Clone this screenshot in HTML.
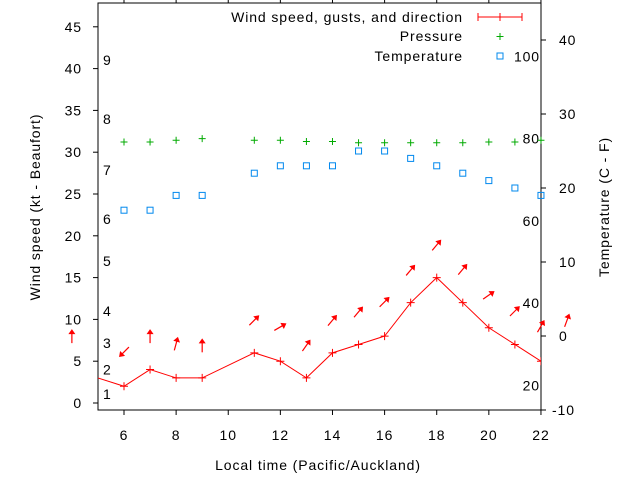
<!DOCTYPE html>
<html><head><meta charset="utf-8"><style>
html,body{margin:0;padding:0;background:#fff;}
svg{display:block;font-family:"Liberation Sans",sans-serif;font-size:14px;letter-spacing:0.9px;}
</style></head><body>
<svg id="c" width="640" height="480" viewBox="0 0 640 480"></svg>
<script>
const hours=[5,6,7,8,9,11,12,13,14,15,16,17,18,19,20,21,22];
const windKt=[3,2,4,3,3,6,5,3,6,7,8,12,15,12,9,7,5];
const pressure=[null,79.2,79.2,79.6,80,79.6,79.6,79.3,79.3,79,79,79,79,79,79.2,79.2,79.6];
const tempHours=[6,7,8,9,11,12,13,14,15,16,17,18,19,20,21,22];
const tempC=[17,17,19,19,22,23,23,23,25,25,24,23,22,21,20,19];
const arrowHours=[4,6,7,8,9,11,12,13,14,15,16,17,18,19,20,21,22,23];
const gustKt=[8.0,6.1,8.0,7.1,6.9,9.9,9.1,6.9,9.9,10.9,12.1,15.9,18.9,16.0,12.9,11.0,9.2,9.9];
const dirDeg=[0,225,0,15,0,45,60,35,40,40,45,40,40,40,55,45,30,20];
const xTicks=[6,8,10,12,14,16,18,20,22];
const yTicks=[0,5,10,15,20,25,30,35,40,45];
const cTicks=[-10,0,10,20,30,40];
const fTicks=[20,40,60,80,100];
const beaufort=[1,2,3,4,5,6,7,8,9];
const beaufortKt=[1.1,4.0,7.2,11,17,22,27.9,34,41];

const L=98,R=541,T=3,B=410;
const X=h=>124+(h-6)*26.06;
const Y=k=>403-k*8.36;
const YC=c=>410-(c+10)*7.4;
const YF=f=>YC((f-32)*5/9);
const svg=document.getElementById('c');
const NS='http://www.w3.org/2000/svg';
function el(tag,attrs,parent){const e=document.createElementNS(NS,tag);for(const k in attrs)e.setAttribute(k,attrs[k]);(parent||svg).appendChild(e);return e;}
function txt(s,x,y,anchor,parent){const t=el('text',{x:x,y:y,'text-anchor':anchor||'start'},parent);t.textContent=s;return t;}

const frame=el('rect',{x:L,y:T,width:R-L,height:B-T,fill:'none',stroke:'#000','stroke-width':1});



const xg=el('g',{});


xTicks.forEach(h=>{const x=X(h);
 el('line',{x1:x,y1:B,x2:x,y2:B+5,stroke:'#000'},xg);
 el('line',{x1:x,y1:T,x2:x,y2:T-5,stroke:'#000'},xg);
 const t=txt(String(h),x,440,'middle',xg);
 
 
});
const yg=el('g',{});


yTicks.forEach(k=>{const y=Y(k);
 el('line',{x1:L-5,y1:y,x2:L,y2:y,stroke:'#000'},yg);
 const t=txt(String(k),82,y+5,'end',yg);
 
 
});
const cg=el('g',{});


cTicks.forEach(c=>{const y=YC(c);
 el('line',{x1:R,y1:y,x2:R+5,y2:y,stroke:'#000'},cg);
 const t=txt(String(c),c<0?552:559,y+5,'start',cg);
 
 
});
fTicks.forEach(f=>{
 const t=txt(String(f),540,YF(f)+5,'end');
 
 
});
beaufort.forEach((b,i)=>{
 const t=txt(String(b),103,Y(beaufortKt[i])+5,'start');
 
 
});

const defs=el('defs',{});
const cp=el('clipPath',{id:'cp'},defs);
el('rect',{x:L,y:T,width:R-L,height:B-T},cp);

const wg=el('g',{'clip-path':'url(#cp)'});


const pl=el('polyline',{points:hours.map((h,i)=>X(h)+','+Y(windKt[i])).join(' '),fill:'none',stroke:'#f00','stroke-width':1},wg);


hours.forEach((h,i)=>{if(h<6)return;const x=X(h),y=Y(windKt[i]);
 const p=el('path',{d:`M${x-4},${y}H${x+4}M${x},${y-4}V${y+4}`,stroke:'#f00','stroke-width':1},wg);
 
 
});
hours.forEach((h,i)=>{if(pressure[i]==null)return;const x=X(h),y=YF(pressure[i]);
 const p=el('path',{d:`M${x-3.5},${y}H${x+3.5}M${x},${y-3.5}V${y+3.5}`,stroke:'#0a0','stroke-width':1});
 
 
});
tempHours.forEach((h,i)=>{const x=X(h),y=YC(tempC[i]);
 const r=el('rect',{x:x-3,y:y-3,width:6,height:6,fill:'none',stroke:'#08e','stroke-width':1});
 
 
});
arrowHours.forEach((h,i)=>{const cx=X(h),cy=Y(gustKt[i]);
 const g=el('g',{transform:`translate(${cx},${cy}) rotate(${dirDeg[i]})`});
 
 
 el('line',{x1:0,y1:7,x2:0,y2:-5,stroke:'#f00','stroke-width':1.2},g);
 el('path',{d:'M0,-7 L-3.5,-2 L3.5,-2 Z',fill:'#f00'},g);
});

const lg=el('g',{});


[['Wind speed, gusts, and direction',22],['Pressure',41],['Temperature',61]].forEach(([s,y])=>{
 const t=txt(s,463,y,'end',lg);
 
 
});
el('path',{d:'M478,17H522M478,13V21M522,13V21M500,13V21',stroke:'#f00'},lg);
el('path',{d:'M500,33V40M496.5,36.5H503.5',stroke:'#0a0'},lg);
el('rect',{x:497,y:53,width:6,height:6,fill:'none',stroke:'#08e'},lg);

let t=txt('Local time (Pacific/Auckland)',318,470,'middle');

t=txt('Wind speed (kt - Beaufort)',0,0,'middle');
t.setAttribute('transform','translate(40,207) rotate(-90)');

t=txt('Temperature (C - F)',0,0,'middle');
t.setAttribute('transform','translate(609,207) rotate(-90)');

</script>
</body></html>
